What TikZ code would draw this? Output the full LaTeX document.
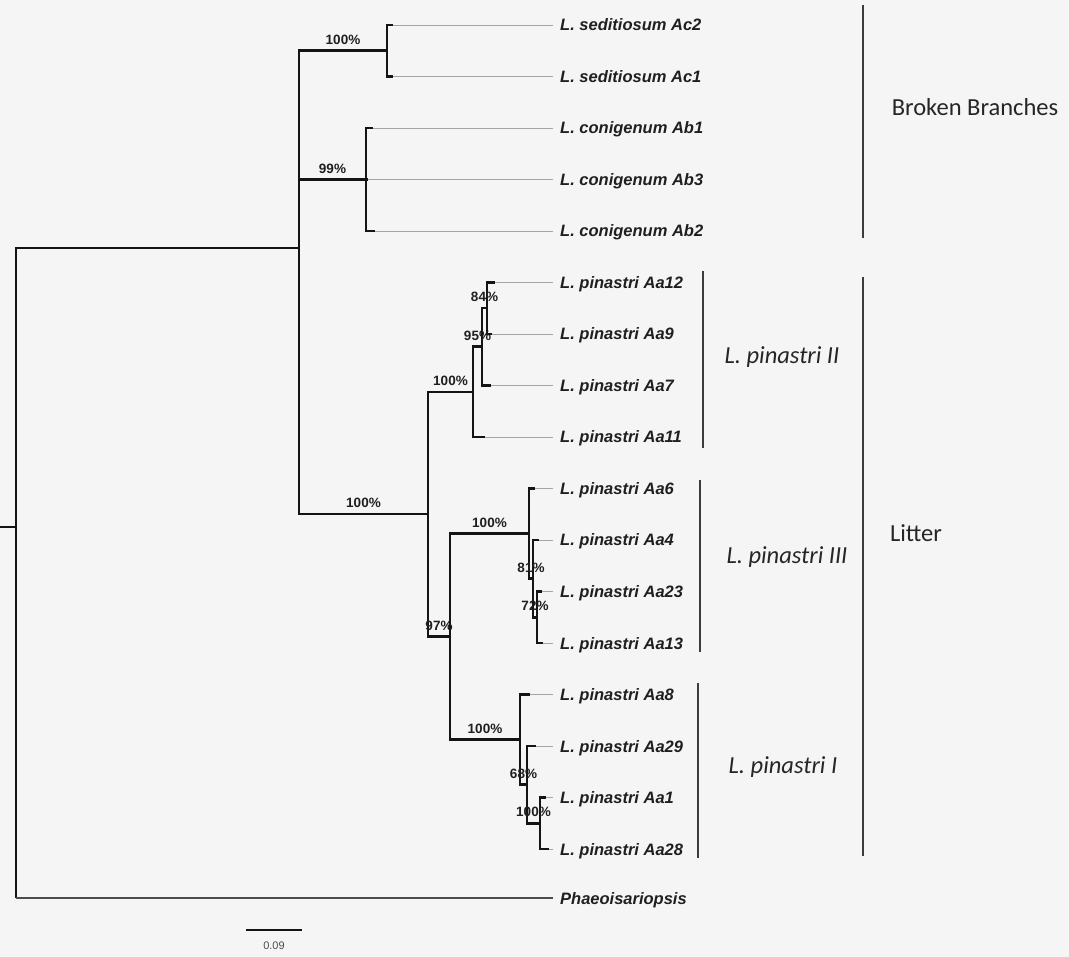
\documentclass[tikz,border=0pt]{standalone}
\usepackage{fontspec}
\newfontfamily\arialf{Liberation Sans}
\newfontfamily\calib{Carlito}
\definecolor{bgc}{RGB}{245,245,245}
\definecolor{leadc}{RGB}{165,165,165}
\definecolor{barc}{RGB}{60,60,60}
\definecolor{brc}{RGB}{20,20,20}
\begin{document}
\begin{tikzpicture}[x=1pt,y=-1pt,
  br/.style={line width=2.5pt, brc, line join=miter},
  phl/.style={line width=1.3pt, black!70},
  lead/.style={line width=0.9pt, leadc, shorten >=7pt},
  leaf/.style={anchor=west, inner sep=0pt, text height=12pt, text depth=0pt,
    font=\arialf\bfseries\itshape\fontsize{16.5}{18}\selectfont, text=black!88},
  pct/.style={above=6pt, inner sep=0pt, font=\arialf\bfseries\fontsize{13.5}{14}\selectfont, text=black!88},
  grp/.style={inner sep=0pt, font=\calib\fontsize{24.5}{28}\selectfont, text=black!85},
  gbar/.style={line width=1.5pt, barc}
]
\fill[bgc] (0,0) rectangle (1069,957);
\useasboundingbox (0,0) rectangle (1069,957);

% leaves
\foreach \n/\y/\t/\s in {
  Ac2/25/393/{L. seditiosum Ac2},
  Ac1/76.5/393/{L. seditiosum Ac1},
  Ab1/128/373/{L. conigenum Ab1},
  Ab3/179.5/368/{L. conigenum Ab3},
  Ab2/231/375/{L. conigenum Ab2},
  Aa12/282.5/495/{L. pinastri Aa12},
  Aa9/334/492/{L. pinastri Aa9},
  Aa7/385.5/491/{L. pinastri Aa7},
  Aa11/437/485/{L. pinastri Aa11},
  Aa6/488.5/535/{L. pinastri Aa6},
  Aa4/540/539/{L. pinastri Aa4},
  Aa23/591.5/542/{L. pinastri Aa23},
  Aa13/643/543/{L. pinastri Aa13},
  Aa8/694.5/530/{L. pinastri Aa8},
  Aa29/746/536/{L. pinastri Aa29},
  Aa1/797.5/546/{L. pinastri Aa1},
  Aa28/849/549/{L. pinastri Aa28}}{
  \node[leaf] (l\n) at (560,\y) {\s};
  \coordinate (t\n) at (\t,\y);
  \draw[lead] (t\n) -- (l\n.west);
}
\node[leaf] (lPh) at (560,898) {Phaeoisariopsis};

% internal nodes
\coordinate (r0) at (0,527);
\coordinate (r) at (16,527);
\coordinate (rT) at (16,248);
\coordinate (cPh) at (16,898);
\coordinate (n1) at (299,248);
\coordinate (nSed) at (387,50.75);
\coordinate (nCon) at (366,179.5);
\coordinate (nPin) at (428,514);
\coordinate (nII) at (473,391.9);
\coordinate (n95) at (482,346.7);
\coordinate (n84) at (487,308.25);
\coordinate (n97) at (450,636.6);
\coordinate (nIII) at (529,533.6);
\coordinate (n81) at (533,578.6);
\coordinate (n72) at (537,617.25);
\coordinate (nI) at (520,739.6);
\coordinate (n68) at (527,784.6);
\coordinate (n100) at (540,823.25);

% branches
\draw[br] (r0) -- (r);
\draw[br] (r) -- (rT) -- (n1);
\draw[br] (r) -- (cPh);
\draw[phl] (cPh) -- ([xshift=-7pt]lPh.west);
\draw[br] (n1) |- (nSed);
\draw[br] (n1) |- (nCon);
\draw[br] (n1) |- (nPin);
\draw[br] (nSed) |- (tAc2);
\draw[br] (nSed) |- (tAc1);
\draw[br] (nCon) |- (tAb1);
\draw[br] (nCon) -- (tAb3);
\draw[br] (nCon) |- (tAb2);
\draw[br] (nPin) |- (nII);
\draw[br] (nPin) |- (n97);
\draw[br] (nII) |- (n95);
\draw[br] (nII) |- (tAa11);
\draw[br] (n95) |- (n84);
\draw[br] (n95) |- (tAa7);
\draw[br] (n84) |- (tAa12);
\draw[br] (n84) |- (tAa9);
\draw[br] (n97) |- (nIII);
\draw[br] (n97) |- (nI);
\draw[br] (nIII) |- (tAa6);
\draw[br] (nIII) |- (n81);
\draw[br] (n81) |- (tAa4);
\draw[br] (n81) |- (n72);
\draw[br] (n72) |- (tAa23);
\draw[br] (n72) |- (tAa13);
\draw[br] (nI) |- (tAa8);
\draw[br] (nI) |- (n68);
\draw[br] (n68) |- (tAa29);
\draw[br] (n68) |- (n100);
\draw[br] (n100) |- (tAa1);
\draw[br] (n100) |- (tAa28);

% support values
\path (n1) |- (nSed) node[pct,pos=0.75] (pSed) {100\%};
\path (n1) |- (nCon) node[pct,pos=0.75] (pCon) {99\%};
\path (n1) |- (nPin) node[pct,pos=0.75] (pPin) {100\%};
\path (nPin) |- (nII) node[pct,pos=0.75] (pII) {100\%};
\path (nII) |- (n95) node[pct,pos=0.75] (p95) {95\%};
\path (n95) |- (n84) node[pct,pos=0.75] (p84) {84\%};
\path (nPin) |- (n97) node[pct,pos=0.75] (p97) {97\%};
\path (n97) |- (nIII) node[pct,pos=0.75] (pIII) {100\%};
\path (nIII) |- (n81) node[pct,pos=0.75] (p81) {81\%};
\path (n81) |- (n72) node[pct,pos=0.75] (p72) {72\%};
\path (n97) |- (nI) node[pct,pos=0.75] (pI) {100\%};
\path (nI) |- (n68) node[pct,pos=0.75] (p68) {68\%};
\path (n68) |- (n100) node[pct,pos=0.75] (p100) {100\%};

% scale bar
\coordinate (sb1) at (246,930);
\coordinate (sb2) at (302,930);
\draw[line width=2.3pt, brc] (sb1) -- (sb2);
\node[inner sep=0pt, font=\arialf\fontsize{11}{12}\selectfont, text=black!70] (sbl) at (274,946) {0.09};

% group bars
\coordinate (bb1) at (863,5);   \coordinate (bb2) at (863,238);
\coordinate (lt1) at (863,277); \coordinate (lt2) at (863,856);
\coordinate (g21) at (703,271); \coordinate (g22) at (703,448);
\coordinate (g31) at (700,480); \coordinate (g32) at (700,652);
\coordinate (g11) at (698,683); \coordinate (g12) at (698,858);
\draw[gbar] (bb1) -- (bb2);
\draw[gbar] (lt1) -- (lt2);
\draw[gbar] (g21) -- (g22);
\draw[gbar] (g31) -- (g32);
\draw[gbar] (g11) -- (g12);
\node[grp] (tBB) at (975,107) {Broken Branches};
\node[grp] (tLit) at (916,533) {Litter};
\node[grp] (tII) at (782,357) {\itshape L. pinastri II};
\node[grp] (tIII) at (787,557) {\itshape L. pinastri III};
\node[grp] (tI) at (783,767) {\itshape L. pinastri I};
\end{tikzpicture}
\end{document}
